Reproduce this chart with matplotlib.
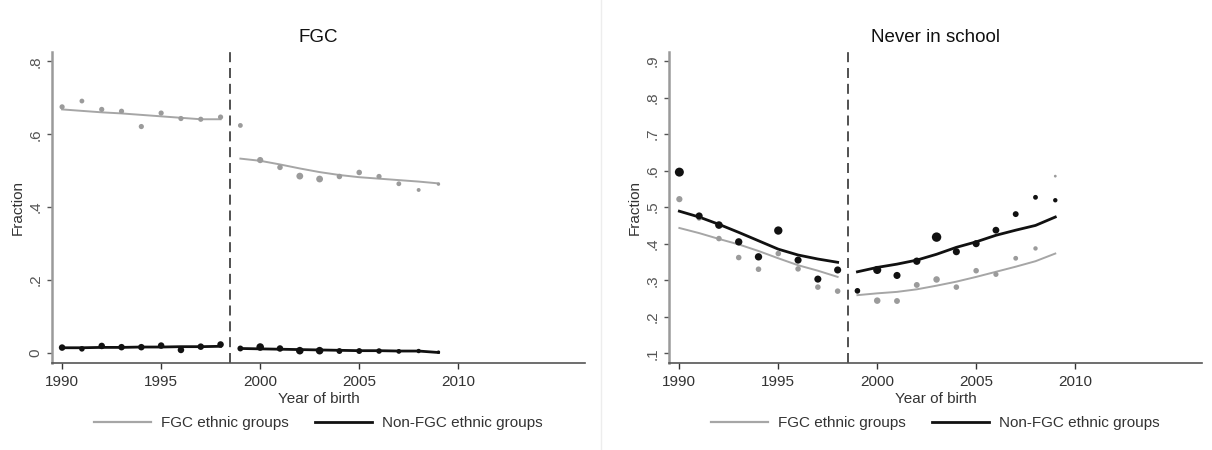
import numpy as np
import matplotlib.pyplot as plt
from matplotlib.lines import Line2D

plt.rcParams['font.family'] = ['Liberation Sans', 'DejaVu Sans']

years_pre = [1990, 1991, 1992, 1993, 1994, 1995, 1996, 1997, 1998]
years_post = [1999, 2000, 2001, 2002, 2003, 2004, 2005, 2006, 2007, 2008, 2009]
cutoff = 1998.5

# panel 1: FGC
fgc_fgc_pre = [.675, .691, .668, .663, .621, .658, .643, .641, .647]
fgc_fgc_post = [.624, .529, .509, .485, .477, .484, .495, .484, .464, .447, .463]
fgc_fgc_fit_pre = [.668, .664, .660, .657, .653, .649, .645, .641, .641]
fgc_fgc_fit_post = [.533, .527, .517, .506, .496, .488, .482, .478, .474, .470, .465]
fgc_non_pre = [.0145, .011, .019, .0156, .0156, .020, .008, .017, .023]
fgc_non_post = [.012, .016, .012, .006, .006, .005, .005, .005, .004, .005, .002]
fgc_non_fit_pre = [.014, .014, .015, .015, .016, .016, .017, .017, .018]
fgc_non_fit_post = [.012, .011, .010, .009, .008, .007, .006, .006, .005, .005, .001]
fgc_size_fgc_pre = [14, 12, 14, 14, 14, 14, 14, 14, 14]
fgc_size_fgc_post = [12, 20, 16, 24, 24, 16, 16, 14, 12, 8, 6]
fgc_size_non_pre = [22, 16, 22, 22, 22, 22, 22, 22, 22]
fgc_size_non_post = [18, 30, 22, 30, 30, 18, 18, 16, 12, 10, 6]

# panel 2: Never in school
nis_fgc_pre = [.522, .470, .414, .362, .330, .373, .331, .281, .270]
nis_fgc_post = [.270, .244, .243, .287, .302, .281, .326, .316, .360, .387, .585]
nis_fgc_fit_pre = [.443, .429, .413, .398, .380, .360, .341, .326, .309]
nis_fgc_fit_post = [.259, .264, .268, .275, .285, .296, .309, .323, .337, .352, .373]
nis_non_pre = [.596, .476, .451, .405, .364, .436, .355, .303, .328]
nis_non_post = [.271, .328, .313, .352, .418, .378, .400, .437, .481, .527, .519]
nis_non_fit_pre = [.489, .473, .453, .431, .408, .385, .369, .358, .349]
nis_non_fit_post = [.323, .335, .344, .355, .371, .390, .405, .423, .437, .450, .473]
nis_size_fgc_pre = [20, 14, 16, 16, 16, 16, 16, 16, 16]
nis_size_fgc_post = [14, 22, 18, 18, 22, 16, 16, 14, 12, 10, 4]
nis_size_non_pre = [42, 26, 30, 28, 28, 36, 26, 26, 26]
nis_size_non_post = [16, 34, 26, 28, 46, 26, 26, 24, 18, 12, 10]

gray = '#9b9b9b'
black = '#111111'


def panel(ax, title, fgc_pts, non_pts, fgc_fit, non_fit, sizes, yticks, yticklabels, ylim):
    for yrs, i in ((years_pre, 0), (years_post, 1)):
        ax.scatter(yrs, fgc_pts[i], s=sizes[0][i], color=gray, zorder=3, linewidths=0)
        ax.scatter(yrs, non_pts[i], s=sizes[1][i], color=black, zorder=4, linewidths=0)
        ax.plot(yrs, fgc_fit[i], color='#a6a6a6', lw=1.4, zorder=2)
        ax.plot(yrs, non_fit[i], color=black, lw=2.0, zorder=2)
    ax.axvline(cutoff, color='#333333', lw=1.2, ls=(0, (6, 3.5)), zorder=1)

    ax.set_xlim(1989.49, 2016.4)
    ax.set_ylim(*ylim)
    ax.set_xticks([1990, 1995, 2000, 2005, 2010])
    ax.set_yticks(yticks)
    ax.set_yticklabels(yticklabels, rotation=90, va='center')
    ax.tick_params(axis='x', labelsize=11, colors='#333333', length=4, width=1, pad=5)
    ax.tick_params(axis='y', labelsize=11, colors='#555555', length=3.6, width=1, pad=3)
    ax.set_xlabel('Year of birth', fontsize=11, color='#333333', labelpad=2)
    ax.set_ylabel('Fraction', fontsize=11, color='#333333', labelpad=3)
    ax.set_title(title, fontsize=13.5, color='#111111', pad=7)

    for s in ('top', 'right'):
        ax.spines[s].set_visible(False)
    ax.spines['left'].set_color('#9a9a9a')
    ax.spines['left'].set_linewidth(1.8)
    ax.spines['bottom'].set_color('#555555')
    ax.spines['bottom'].set_linewidth(1.2)

    handles = [Line2D([], [], color='#a6a6a6', lw=1.6),
               Line2D([], [], color=black, lw=2.0)]
    ax.legend(handles, ['FGC ethnic groups', 'Non-FGC ethnic groups'],
              loc='center', bbox_to_anchor=(0.5, -0.194), ncol=2, frameon=False,
              fontsize=11, handlelength=3.7, handletextpad=0.7, columnspacing=1.7,
              labelcolor='#333333')


fig = plt.figure(figsize=(12.12, 4.5), dpi=100)
ax1 = fig.add_axes([0.0429, 0.194, 0.4398, 0.690])
ax2 = fig.add_axes([0.5522, 0.194, 0.4393, 0.690])

panel(ax1, 'FGC',
      (fgc_fgc_pre, fgc_fgc_post), (fgc_non_pre, fgc_non_post),
      (fgc_fgc_fit_pre, fgc_fgc_fit_post), (fgc_non_fit_pre, fgc_non_fit_post),
      ((fgc_size_fgc_pre, fgc_size_fgc_post), (fgc_size_non_pre, fgc_size_non_post)),
      [0, .2, .4, .6, .8], ['0', '.2', '.4', '.6', '.8'], (-0.027, 0.825))

panel(ax2, 'Never in school',
      (nis_fgc_pre, nis_fgc_post), (nis_non_pre, nis_non_post),
      (nis_fgc_fit_pre, nis_fgc_fit_post), (nis_non_fit_pre, nis_non_fit_post),
      ((nis_size_fgc_pre, nis_size_fgc_post), (nis_size_non_pre, nis_size_non_post)),
      [.1, .2, .3, .4, .5, .6, .7, .8, .9],
      ['.1', '.2', '.3', '.4', '.5', '.6', '.7', '.8', '.9'], (0.074, 0.9245))

fig.add_artist(Line2D([0.4955, 0.4955], [0, 1], color='#ededed', lw=1))

fig.savefig('out.png', dpi=100)
